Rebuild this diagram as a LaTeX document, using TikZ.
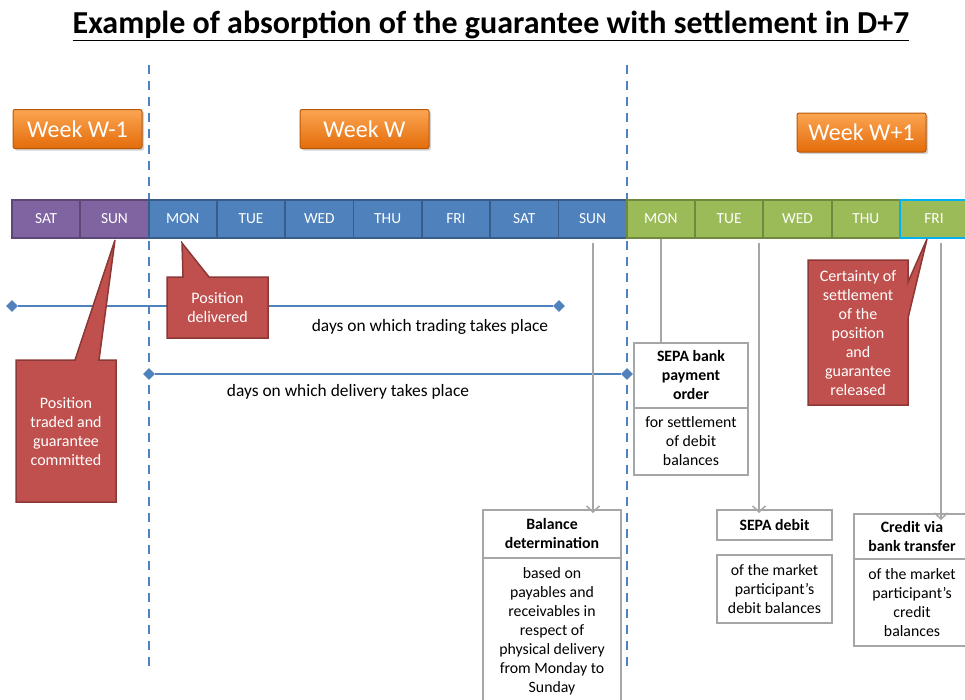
\documentclass[tikz,border=0pt]{standalone}
\usepackage{fontspec}
\setmainfont{Carlito}
\usetikzlibrary{arrows.meta,shapes.geometric,shadows}
\definecolor{cpurple}{HTML}{8064A2}
\definecolor{cpurpled}{HTML}{5C4776}
\definecolor{cblue}{HTML}{4F81BD}
\definecolor{cblued}{HTML}{385D8A}
\definecolor{cgreen}{HTML}{9BBB59}
\definecolor{cgreend}{HTML}{71893F}
\definecolor{ccyan}{HTML}{00B0F0}
\definecolor{cred}{HTML}{C0504D}
\definecolor{credd}{HTML}{8C3836}
\definecolor{corangel}{HTML}{FBA552}
\definecolor{coranged}{HTML}{E46C0A}
\definecolor{coranbd}{HTML}{B65708}
\definecolor{cgray}{HTML}{A6A6A6}
\begin{document}
\begin{tikzpicture}[x=1pt,y=-1pt,
  daycell/.style={rectangle, minimum width=68.3pt, minimum height=38pt, inner sep=0pt, line width=1.8pt, text=white, font=\fontsize{15.4}{17}\selectfont},
  weekbox/.style={rectangle, rounded corners=2pt, minimum width=129pt, minimum height=39pt, inner sep=0pt, top color=corangel, bottom color=coranged, draw=coranbd, line width=1pt, text=white, font=\fontsize{24}{26}\selectfont, drop shadow={shadow xshift=2pt, shadow yshift=-2pt, opacity=0.35}},
  callout/.style={fill=cred, draw=credd, line width=1.5pt, line join=miter},
  callouttext/.style={text=white, align=center, font=\fontsize{16}{19}\selectfont, inner sep=0pt},
  gbox/.style={rectangle, draw=cgray, line width=2.5pt, fill=white, inner sep=0pt, outer sep=0pt, align=center, font=\fontsize{15.8}{19}\selectfont},
  gline/.style={draw=cgray, line width=1.8pt},
  garrow/.style={gline, -{Straight Barb[length=6pt, width=13pt, line width=1.5pt]}},
  vdash/.style={draw=cblue, line width=2pt, dash pattern=on 9pt off 7pt},
  dia/.style={diamond, fill=cblue, inner sep=0pt, minimum size=12pt},
  hline/.style={draw=cblue, line width=2pt},
  linelabel/.style={font=\fontsize{17.4}{20}\selectfont, inner sep=0pt}
]
\useasboundingbox (0,0) rectangle (965,699);

% title
\node[font=\bfseries\fontsize{32}{34}\selectfont, inner sep=0pt] (title) at (491,26) {\underline{Example of absorption of the guarantee with settlement in D+7}};

% dashed separators
\coordinate (s1t) at (149,65); \coordinate (s1b) at (149,668);
\coordinate (s2t) at (627,65); \coordinate (s2b) at (627,668);
\draw[vdash] (s1t) -- (s1b);
\draw[vdash] (s2t) -- (s2b);

% week boxes
\node[weekbox] (w1) at (77.5,129) {Week W-1};
\node[weekbox] (w2) at (364.5,129) {Week W};
\node[weekbox] (w3) at (861.5,132.5) {Week W+1};

% day bar
\node[daycell, fill=cpurple, draw=cpurpled] (d1) at (46.15,219) {SAT};
\node[daycell, fill=cpurple, draw=cpurpled] (d2) at (114.45,219) {SUN};
\node[daycell, fill=cblue, draw=cblued] (d3) at (182.75,219) {MON};
\node[daycell, fill=cblue, draw=cblued] (d4) at (251.05,219) {TUE};
\node[daycell, fill=cblue, draw=cblued] (d5) at (319.35,219) {WED};
\node[daycell, fill=cblue, draw=cblued] (d6) at (387.65,219) {THU};
\node[daycell, fill=cblue, draw=cblued] (d7) at (455.95,219) {FRI};
\node[daycell, fill=cblue, draw=cblued] (d8) at (524.25,219) {SAT};
\node[daycell, fill=cblue, draw=cblued] (d9) at (592.55,219) {SUN};
\node[daycell, fill=cgreen, draw=cgreend] (d10) at (660.85,219) {MON};
\node[daycell, fill=cgreen, draw=cgreend] (d11) at (729.15,219) {TUE};
\node[daycell, fill=cgreen, draw=cgreend] (d12) at (797.45,219) {WED};
\node[daycell, fill=cgreen, draw=cgreend] (d13) at (865.75,219) {THU};
\node[daycell, fill=cgreen, draw=ccyan] (d14) at (934.05,219) {FRI};

% trading / delivery lines
\node[dia] (ta) at (12,306) {};
\node[dia] (tb) at (559,306) {};
\draw[hline] (ta) -- (tb);
\node[dia] (da) at (149,374) {};
\node[dia] (db) at (627,374) {};
\draw[hline] (da) -- (db);
\node[linelabel] (tl) at (430,327) {days on which trading takes place};
\node[linelabel] (dl) at (348,392) {days on which delivery takes place};

% boxes
\node[gbox, minimum width=138pt, minimum height=48pt] (bdh) at (552,534) {\textbf{Balance}\\\textbf{determination}};
\node[gbox, minimum width=138pt, minimum height=147pt, anchor=north] (bdb) at (bdh.south) {based on\\payables and\\receivables in\\respect of\\physical delivery\\from Monday to\\Sunday};
\node[gbox, minimum width=114pt, minimum height=65pt] (sph) at (691,375.5) {\textbf{SEPA bank}\\\textbf{payment}\\\textbf{order}};
\node[gbox, minimum width=114pt, minimum height=67pt, anchor=north] (spb) at (sph.south) {for settlement\\of debit\\balances};
\node[gbox, minimum width=115pt, minimum height=30pt] (sdh) at (774.5,525) {\textbf{SEPA debit}};
\node[gbox, minimum width=115pt, minimum height=68pt] (sdb) at (774.5,589) {of the market\\participant’s\\debit balances};
\node[gbox, minimum width=116pt, minimum height=45pt] (cvh) at (912,536.5) {\textbf{Credit via}\\\textbf{bank transfer}};
\node[gbox, minimum width=116pt, minimum height=87pt, anchor=north] (cvb) at (cvh.south) {of the market\\participant’s\\credit\\balances};

% gray connectors
\coordinate (a1) at (593,243);
\coordinate (a3) at (759,243);
\coordinate (a4) at (941,243);
\draw[garrow] (a1) -- ([yshift=-3pt]a1 |- bdh.north);
\draw[gline] (d10.south) -- (d10.south |- sph.north);
\draw[garrow] (a3) -- ([yshift=-3pt]a3 |- sdh.north);
\draw[garrow] (a4) -- ([yshift=-6pt]a4 |- cvh.north);

% callouts
\draw[callout] (167,277) -- (183,277) -- (182,243) -- (209,277) -- (268,277) -- (268,338) -- (167,338) -- cycle;
\node[callouttext] (c1) at (217.5,308) {Position\\delivered};
\draw[callout] (16,360) -- (75,360) -- (115,240) -- (99,360) -- (116,360) -- (116,502) -- (16,502) -- cycle;
\node[callouttext] (c2) at (66,432) {Position\\traded and\\guarantee\\committed};
\draw[callout] (808,260) -- (908,260) -- (908,282) -- (927,239) -- (908,318) -- (908,405) -- (808,405) -- cycle;
\node[callouttext] (c3) at (858,333) {Certainty of\\settlement\\of the\\position\\and\\guarantee\\released};
\end{tikzpicture}
\end{document}
